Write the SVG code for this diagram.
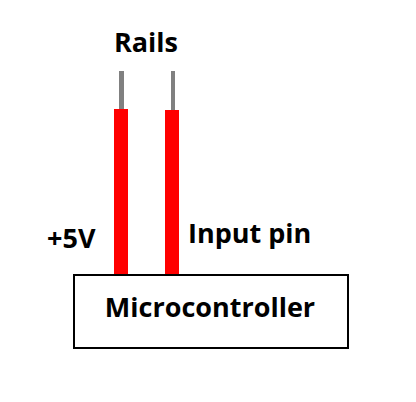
<svg xmlns="http://www.w3.org/2000/svg" width="416" height="402" viewBox="0 0 416 402">
<style>
.t{font-family:"Open Sans","Liberation Sans",sans-serif;font-weight:bold;font-size:27px;fill:#000}
.rail{fill:#808080}
.wire{fill:#ff0000}
</style>
<rect width="416" height="402" fill="#fff"/>
<g id="rails-label"><text class="t" x="146" y="52" text-anchor="middle">Rails</text></g>
<g id="connectors">
<rect class="rail" x="119" y="71" width="5" height="39"/>
<rect class="rail" x="171" y="71" width="4" height="39"/>
<rect class="wire" x="114" y="109" width="14" height="166"/>
<rect class="wire" x="165" y="110" width="14" height="165"/>
</g>
<g id="microcontroller">
<rect x="74" y="275" width="274" height="73" fill="#fff" stroke="#000" stroke-width="2"/>
<text class="t" x="210" y="317" text-anchor="middle">Microcontroller</text>
</g>
<g id="label-5v"><text class="t" x="47" y="248">+5V</text></g>
<g id="label-input"><text class="t" x="188" y="243">Input pin</text></g>
</svg>
